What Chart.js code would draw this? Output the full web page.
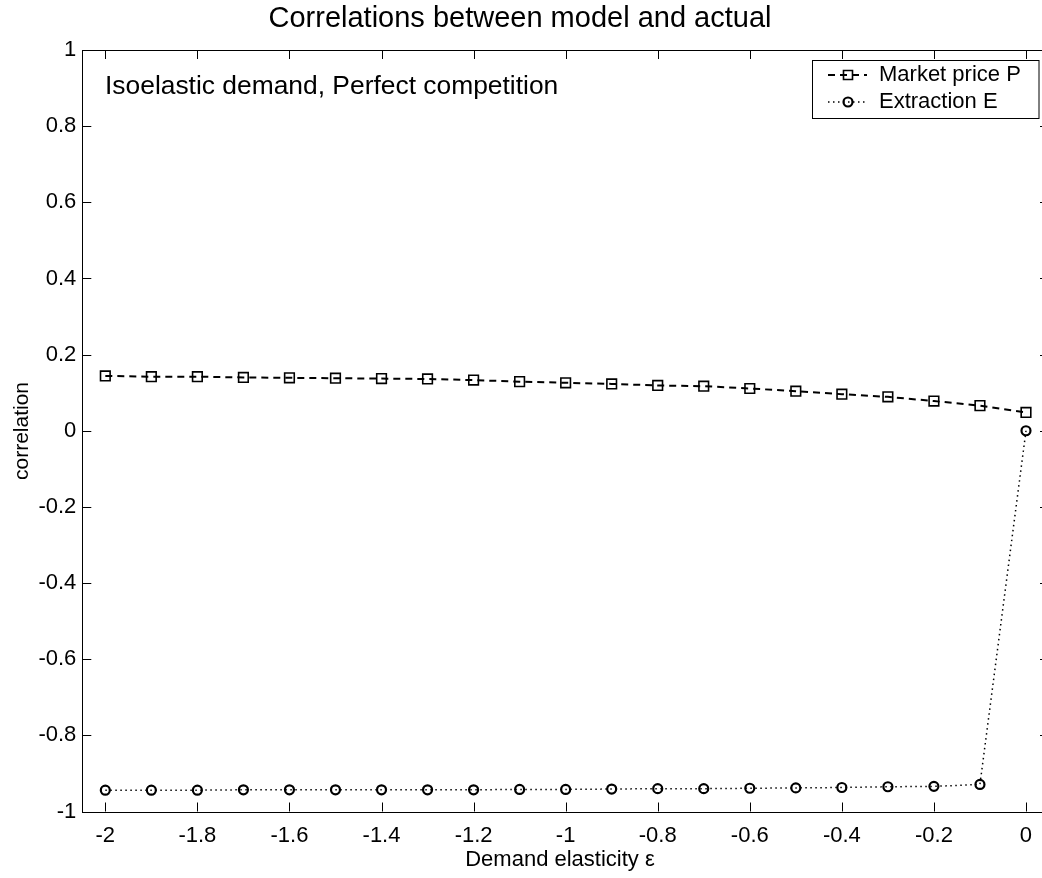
<!DOCTYPE html>
<html>
<head>
<meta charset="utf-8">
<title>Correlations between model and actual</title>
<script src="https://cdn.jsdelivr.net/npm/chart.js@4.4.1/dist/chart.umd.min.js"></script>
<style>
  html, body { margin: 0; padding: 0; background: #fff; overflow: hidden; }
  #wrap { position: absolute; left: 0; top: 0; width: 1060px; height: 878px; }
</style>
</head>
<body>
<div id="wrap"><canvas id="chart" width="1060" height="878"></canvas></div>
<script>
// データ
const elasticity = [-2, -1.9, -1.8, -1.7, -1.6, -1.5, -1.4, -1.3, -1.2, -1.1, -1,
  -0.9, -0.8, -0.7, -0.6, -0.5, -0.4, -0.3, -0.2, -0.1, 0];
const marketPrice = [0.144, 0.142, 0.142, 0.140, 0.139, 0.138, 0.137, 0.136, 0.133, 0.129, 0.126,
  0.123, 0.119, 0.117, 0.111, 0.104, 0.096, 0.089, 0.078, 0.066, 0.048];
const extraction = [-0.944, -0.944, -0.944, -0.943, -0.943, -0.943, -0.943, -0.943, -0.943, -0.942, -0.942,
  -0.941, -0.940, -0.940, -0.939, -0.938, -0.937, -0.935, -0.934, -0.929, 0.0];
const xTicks = [-2, -1.8, -1.6, -1.4, -1.2, -1, -0.8, -0.6, -0.4, -0.2, 0];
const yTicks = [-1, -0.8, -0.6, -0.4, -0.2, 0, 0.2, 0.4, 0.6, 0.8, 1];

const FONT = "'Liberation Sans', Arial, Helvetica, sans-serif";
Chart.defaults.font.family = FONT;
Chart.defaults.color = '#000';

const toPoints = (ys) => elasticity.map((x, i) => ({ x, y: ys[i] }));

// 枠・内向き目盛り・タイトル・凡例
const decorations = {
  id: 'decorations',
  beforeDraw(chart) {
    const ctx = chart.ctx;
    ctx.save();
    ctx.fillStyle = '#fff';
    ctx.fillRect(0, 0, chart.width, chart.height);
    ctx.restore();
  },
  afterDraw(chart) {
    const ctx = chart.ctx;
    const a = chart.chartArea;
    const xs = chart.scales.x;
    const ys = chart.scales.y;
    const tl = 9;
    ctx.save();
    ctx.strokeStyle = '#000';
    ctx.lineWidth = 1;
    ctx.strokeRect(Math.round(a.left) + 0.5, Math.round(a.top) + 0.5,
      Math.round(a.right - a.left), Math.round(a.bottom - a.top));
    ctx.beginPath();
    xTicks.forEach((v) => {
      const px = Math.round(xs.getPixelForValue(v)) + 0.5;
      ctx.moveTo(px, a.bottom); ctx.lineTo(px, a.bottom - tl);
      ctx.moveTo(px, a.top); ctx.lineTo(px, a.top + tl);
    });
    yTicks.forEach((v) => {
      const py = Math.round(ys.getPixelForValue(v)) + 0.5;
      ctx.moveTo(a.left, py); ctx.lineTo(a.left + tl, py);
      ctx.moveTo(a.right, py); ctx.lineTo(a.right - tl, py);
    });
    ctx.stroke();

    // タイトル・軸ラベル
    ctx.fillStyle = '#000';
    ctx.textBaseline = 'middle';
    ctx.textAlign = 'center';
    ctx.font = '29px ' + FONT;
    ctx.fillText('Correlations between model and actual', 520, 19);
    ctx.font = '22px ' + FONT;
    ctx.fillText('Demand elasticity \u03b5', 560, 860);
    ctx.save();
    ctx.translate(22, 431);
    ctx.rotate(-Math.PI / 2);
    ctx.font = '21px ' + FONT;
    ctx.fillText('correlation', 0, 0);
    ctx.restore();

    ctx.textAlign = 'left';
    ctx.font = '26.4px ' + FONT;
    ctx.fillText('Isoelastic demand, Perfect competition', 105, 87);

    // 凡例
    ctx.fillStyle = '#fff';
    ctx.fillRect(812.5, 60.5, 226.5, 58);
    ctx.strokeStyle = '#000';
    ctx.lineWidth = 1;
    ctx.strokeRect(812.5, 60.5, 226.5, 58);
    const rows = [
      { label: 'Market price P', y: 75, ds: chart.data.datasets[0] },
      { label: 'Extraction E', y: 102, ds: chart.data.datasets[1] },
    ];
    rows.forEach((r) => {
      ctx.save();
      ctx.strokeStyle = '#000';
      ctx.lineWidth = r.ds.borderWidth;
      ctx.setLineDash(r.ds.borderDash);
      ctx.beginPath();
      ctx.moveTo(828, r.y); ctx.lineTo(867, r.y);
      ctx.stroke();
      ctx.setLineDash([]);
      ctx.lineWidth = r.ds.pointBorderWidth;
      ctx.beginPath();
      if (r.ds.pointStyle === 'rect') {
        ctx.rect(843.5, r.y - 4.5, 9, 9);
      } else {
        ctx.arc(848, r.y, r.ds.pointRadius, 0, Math.PI * 2);
      }
      ctx.stroke();
      ctx.restore();
      ctx.fillStyle = '#000';
      ctx.font = '22px ' + FONT;
      ctx.fillText(r.label, 879, r.y);
    });
    ctx.restore();
  },
};

new Chart(document.getElementById('chart'), {
  type: 'line',
  data: {
    datasets: [
      {
        label: 'Market price P',
        data: toPoints(marketPrice),
        borderColor: '#000',
        borderWidth: 2,
        borderDash: [7, 5],
        pointStyle: 'rect',
        pointRadius: 6.8,
        pointBorderWidth: 1.6,
        pointBorderColor: '#000',
        pointBackgroundColor: 'rgba(0,0,0,0)',
        tension: 0,
      },
      {
        label: 'Extraction E',
        data: toPoints(extraction),
        borderColor: '#000',
        borderWidth: 1.5,
        borderDash: [1.5, 3.5],
        pointStyle: 'circle',
        pointRadius: 4.5,
        pointBorderWidth: 2.2,
        pointBorderColor: '#000',
        pointBackgroundColor: 'rgba(0,0,0,0)',
        tension: 0,
      },
    ],
  },
  options: {
    responsive: false,
    animation: false,
    events: [],
    layout: { padding: { left: 0, top: 50, right: 11, bottom: 0 } },
    plugins: { legend: { display: false }, title: { display: false }, tooltip: { enabled: false } },
    scales: {
      x: {
        type: 'linear',
        min: -2.05,
        max: 0.05,
        afterBuildTicks: (scale) => { scale.ticks = xTicks.map((v) => ({ value: v })); },
        afterFit: (scale) => { scale.height = 66.5; },
        grid: { display: false, drawTicks: false },
        border: { display: false },
        ticks: { padding: 11, font: { size: 22 }, maxRotation: 0, callback: (v) => String(v) },
      },
      y: {
        type: 'linear',
        min: -1,
        max: 1,
        afterBuildTicks: (scale) => { scale.ticks = yTicks.map((v) => ({ value: v })); },
        afterFit: (scale) => { scale.width = 82.3; },
        grid: { display: false, drawTicks: false },
        border: { display: false },
        ticks: { padding: 6, font: { size: 22 }, callback: (v) => String(v) },
      },
    },
  },
  plugins: [decorations],
});
</script>
</body>
</html>
